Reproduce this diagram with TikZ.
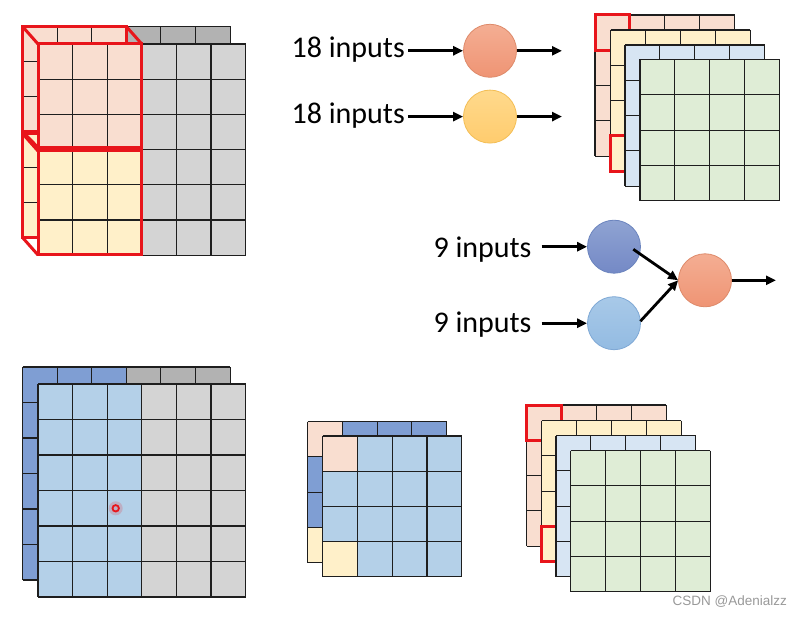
\documentclass[tikz,border=0pt]{standalone}
\usepackage{fontspec}
\setmainfont{Carlito}
\newfontfamily\wmfont{Liberation Sans}
\usetikzlibrary{arrows.meta,calc}
\definecolor{cpink}{HTML}{F9DED0}
\definecolor{cyel}{HTML}{FFF0C9}
\definecolor{cgray}{HTML}{D4D4D4}
\definecolor{cdgray}{HTML}{B2B2B2}
\definecolor{clblue}{HTML}{B4D0E8}
\definecolor{cdblue}{HTML}{7F9ED3}
\definecolor{cpblue}{HTML}{D7E5F3}
\definecolor{cgreen}{HTML}{DFEDD6}
\definecolor{cred}{HTML}{E8151B}
\definecolor{gridc}{HTML}{1E1E1E}
\definecolor{nsalT}{HTML}{F4AE93}
\definecolor{nsalB}{HTML}{EF9474}
\definecolor{nsalE}{HTML}{DE8A6A}
\definecolor{nyelT}{HTML}{FFD98C}
\definecolor{nyelB}{HTML}{FFCC6E}
\definecolor{nyelE}{HTML}{F3BE55}
\definecolor{ndbT}{HTML}{8FA3D2}
\definecolor{ndbB}{HTML}{7489C6}
\definecolor{ndbE}{HTML}{6B84BE}
\definecolor{nlbT}{HTML}{A8C9E8}
\definecolor{nlbB}{HTML}{93BBE2}
\definecolor{nlbE}{HTML}{7EA8D5}
\newcommand\gridlines[6]{%
  \foreach \i in {0,...,#3}{\draw[gl] ({#1+\i*#5},#2) -- ({#1+\i*#5},{#2+#4*#6});}
  \foreach \j in {0,...,#4}{\draw[gl] (#1,{#2+\j*#6}) -- ({#1+#3*#5},{#2+\j*#6});}
}
\newcommand\cellfill[9]{\fill[#9] ({#1+#5*#3},{#2+#6*#4}) rectangle ({#1+#7*#3},{#2+#8*#4});}
\newcommand\stacklayer[3]{\fill[#3] (#1,#2) rectangle ++(139.6,141.2); \gridlines{#1}{#2}{4}{4}{34.9}{35.3}}
\newcommand\redcell[4]{\draw[redbox] ({#1+#3*34.9},{#2+#4*35.3}) rectangle ++(34.9,35.3);}
\begin{document}
\begin{tikzpicture}[x=1pt,y=-1pt,
  gl/.style={draw=gridc,line width=1.1pt},
  redbox/.style={draw=cred,line width=3pt,line join=miter},
  neuron/.style={circle,minimum size=53pt,inner sep=0pt,line width=0.8pt},
  lbl/.style={font=\fontsize{30}{36}\selectfont,inner sep=0pt,anchor=base east},
  arr/.style={line width=2.8pt,-{Triangle[length=10pt,width=9pt]}}]
\useasboundingbox[fill=white] (0,0) rectangle (802,617);

% ================= top-left =================
\cellfill{22.5}{26.5}{34.6}{35.2}{0}{0}{3}{3}{cpink}
\cellfill{22.5}{26.5}{34.6}{35.2}{0}{3}{3}{6}{cyel}
\cellfill{22.5}{26.5}{34.6}{35.2}{3}{0}{6}{6}{cdgray}
\gridlines{22.5}{26.5}{6}{6}{34.6}{35.2}
\draw[redbox] (22.5,26.5) rectangle (126.3,131.5);
\draw[redbox] (22.5,133.5) rectangle (126.3,237.5);
\draw[redbox] (22.5,26.5) -- (38,44);
\draw[redbox] (126.3,26.5) -- (141.8,44);
\draw[redbox] (22.5,131.5) -- (38,147.5);
\draw[redbox] (22.5,133.5) -- (38,151);
\draw[redbox] (22.5,237.5) -- (38,255);
\cellfill{38}{44}{34.6}{35.2}{0}{0}{3}{3}{cpink}
\cellfill{38}{44}{34.6}{35.2}{0}{3}{3}{6}{cyel}
\cellfill{38}{44}{34.6}{35.2}{3}{0}{6}{6}{cgray}
\gridlines{38}{44}{6}{6}{34.6}{35.2}
\draw[redbox] (38,44) rectangle (141.8,147.5);
\draw[redbox] (38,151) rectangle (141.8,255);

% ================= bottom-left =================
\cellfill{22.5}{367}{34.6}{35.5}{0}{0}{3}{6}{cdblue}
\cellfill{22.5}{367}{34.6}{35.5}{3}{0}{6}{6}{cdgray}
\gridlines{22.5}{367}{6}{6}{34.6}{35.5}
\draw[draw=gridc,line width=1.8pt] (22.5,473.5) -- (38,473.5);
\cellfill{38}{384}{34.6}{35.5}{0}{0}{3}{6}{clblue}
\cellfill{38}{384}{34.6}{35.5}{3}{0}{6}{6}{cgray}
\gridlines{38}{384}{6}{6}{34.6}{35.5}
\draw[draw=gridc,line width=1.8pt] (38,490.5) -- (141.8,490.5);
\fill[cred,opacity=0.18] (115.7,508.3) circle (7);
\draw[cred,line width=1.8pt] (115.7,508.3) circle (3.2);

% ================= bottom-middle =================
\cellfill{307.5}{421.7}{34.8}{35.2}{0}{0}{4}{4}{cdblue}
\cellfill{307.5}{421.7}{34.8}{35.2}{0}{0}{1}{1}{cpink}
\cellfill{307.5}{421.7}{34.8}{35.2}{0}{3}{1}{4}{cyel}
\gridlines{307.5}{421.7}{4}{4}{34.8}{35.2}
\cellfill{322.7}{436}{34.75}{35.2}{0}{0}{4}{4}{clblue}
\cellfill{322.7}{436}{34.75}{35.2}{0}{0}{1}{1}{cpink}
\cellfill{322.7}{436}{34.75}{35.2}{0}{3}{1}{4}{cyel}
\gridlines{322.7}{436}{4}{4}{34.75}{35.2}

% ================= top-right stack =================
\stacklayer{595}{15}{cpink}
\redcell{595}{15}{0}{0}
\stacklayer{610.5}{30}{cyel}
\redcell{610.5}{30}{0}{3}
\stacklayer{625}{45}{cpblue}
\stacklayer{640}{59.5}{cgreen}

% ================= bottom-right stack =================
\stacklayer{526.5}{405}{cpink}
\redcell{526.5}{405}{0}{0}
\stacklayer{541.5}{420.5}{cyel}
\redcell{541.5}{420.5}{0}{3}
\stacklayer{556}{435.5}{cpblue}
\stacklayer{570.5}{450.5}{cgreen}

% ================= neurons =================
\node[neuron,draw=nsalE,top color=nsalT,bottom color=nsalB] (n1) at (490,50.8) {};
\node[neuron,draw=nyelE,top color=nyelT,bottom color=nyelB] (n2) at (490,116.6) {};
\node[lbl] (t1) at (405,57.3) {18 inputs};
\node[lbl] (t2) at (405,123.3) {18 inputs};
\coordinate (o1) at (562,50.8);
\coordinate (o2) at (562,116.6);
\draw[arr] ([xshift=3pt]t1.east |- n1.west) -- (n1.west);
\draw[arr] ([xshift=3pt]t2.east |- n2.west) -- (n2.west);
\draw[arr] (n1.east) -- (o1);
\draw[arr] (n2.east) -- (o2);

\node[neuron,draw=ndbE,top color=ndbT,bottom color=ndbB] (n3) at (614,246.7) {};
\node[neuron,draw=nlbE,top color=nlbT,bottom color=nlbB] (n4) at (614,323.2) {};
\node[neuron,draw=nsalE,top color=nsalT,bottom color=nsalB] (n5) at (705,280.3) {};
\node[lbl] (t3) at (531.7,257.7) {9 inputs};
\node[lbl] (t4) at (531.7,332) {9 inputs};
\coordinate (o5) at (776,280.3);
\draw[arr] ([xshift=10pt]t3.east |- n3.west) -- (n3.west);
\draw[arr] ([xshift=10pt]t4.east |- n4.west) -- (n4.west);
\draw[arr] ([shift={(19.3,2.6)}]n3.center) -- (n5.west);
\draw[arr] ([shift={(-0.5,-2)}]n4.east) -- (n5.west);
\draw[arr] (n5.east) -- (o5);

% watermark
\node[font=\wmfont\fontsize{13.5}{16}\selectfont,text=black!40,anchor=east,inner sep=0pt] (wm) at (787,602) {CSDN @Adenialzz};
\end{tikzpicture}
\end{document}
